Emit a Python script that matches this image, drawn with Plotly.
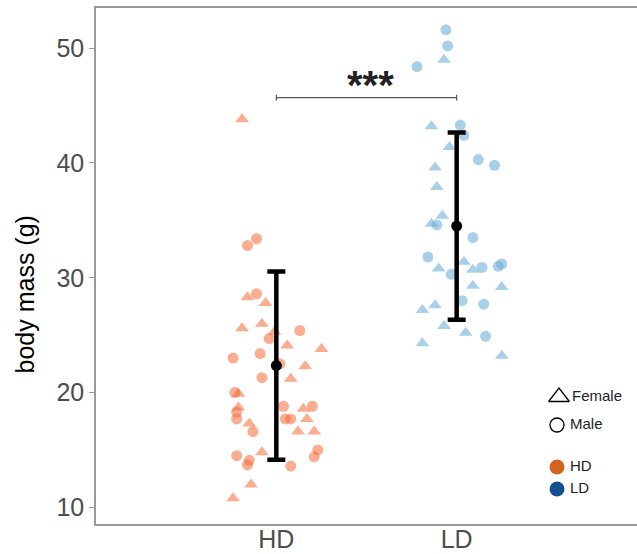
import plotly.graph_objects as go

# ---------------- data ----------------
groups = ["HD", "LD"]
group_pos = [1, 2]

# HD females (triangles): body mass and horizontal jitter (category units)
hd_f_mass = [43.8, 28.3, 27.8, 25.6, 26.0, 25.3, 24.1, 23.8, 22.3, 21.2,
             19.9, 18.7, 18.6, 17.7, 17.3, 16.6, 16.6, 14.8, 12.0, 10.8]
hd_f_jit = [-0.19, -0.16, -0.06, -0.19, -0.08, -0.01, 0.06, 0.25, 0.16, 0.08,
            -0.21, -0.21, 0.15, 0.17, -0.15, 0.12, 0.21, -0.08, -0.14, -0.24]
# HD males (circles)
hd_m_mass = [32.8, 33.4, 28.6, 25.4, 24.7, 23.0, 23.4, 22.5, 21.3, 20.0,
             18.3, 17.7, 18.8, 18.8, 17.7, 17.7, 16.6, 15.0, 14.4, 14.5,
             14.1, 13.7, 13.6]
hd_m_jit = [-0.16, -0.11, -0.11, 0.13, -0.04, -0.24, -0.09, 0.02, -0.08, -0.23,
            -0.22, -0.22, 0.04, 0.20, 0.05, 0.08, -0.13, 0.23, 0.21, -0.22,
            -0.15, -0.16, 0.08]
# LD females (triangles)
ld_f_mass = [49.0, 43.2, 41.4, 39.6, 37.9, 35.4, 34.7, 30.8, 31.4, 30.7,
             29.3, 29.2, 27.2, 27.6, 25.8, 25.2, 24.3, 23.2]
ld_f_jit = [-0.07, -0.14, -0.04, -0.12, -0.11, -0.08, -0.14, -0.10, 0.04, 0.09,
            0.09, 0.25, -0.19, -0.12, -0.07, 0.05, -0.19, 0.25]
# LD males (circles)
ld_m_mass = [51.6, 50.2, 48.4, 43.3, 42.4, 40.3, 39.8, 34.6, 33.5, 31.8,
             30.3, 30.9, 31.0, 31.2, 28.0, 27.7, 24.9]
ld_m_jit = [-0.06, -0.05, -0.22, 0.02, 0.04, 0.12, 0.21, -0.11, 0.09, -0.16,
            -0.03, 0.14, 0.23, 0.25, 0.03, 0.15, 0.16]

means = [22.35, 34.5]
sds = [8.2, 8.15]

bracket_y = 45.7
sig_label = "<b>***</b>"

y_title = "body mass (g)"
legend_labels = ["Female", "Male", "HD", "LD"]

# ---------------- styles ----------------
hd_pt = "rgba(245,105,55,0.55)"
ld_pt = "rgba(100,170,215,0.55)"
hd_solid = "#D2651E"
ld_solid = "#15508E"
FONT = "Liberation Sans, Arial, sans-serif"

fig = go.Figure()

def add_pts(mass, jit, pos, symbol, size, color):
    fig.add_trace(go.Scatter(
        x=[pos + j for j in jit], y=mass, mode="markers",
        marker=dict(symbol=symbol, size=size, color=color, line=dict(width=0)),
        showlegend=False, hoverinfo="y"))

add_pts(hd_f_mass, hd_f_jit, group_pos[0], "triangle-up", 12, hd_pt)
add_pts(hd_m_mass, hd_m_jit, group_pos[0], "circle", 11, hd_pt)
add_pts(ld_f_mass, ld_f_jit, group_pos[1], "triangle-up", 12, ld_pt)
add_pts(ld_m_mass, ld_m_jit, group_pos[1], "circle", 11, ld_pt)

# mean +/- sd
fig.add_trace(go.Scatter(
    x=group_pos, y=means, mode="markers",
    marker=dict(size=11, color="black"),
    error_y=dict(type="data", array=sds, color="black", thickness=4.5, width=9),
    showlegend=False))

# significance bracket
tk = 0.25
fig.add_trace(go.Scatter(
    x=[group_pos[0], group_pos[0], None, group_pos[0], group_pos[1], None, group_pos[1], group_pos[1]],
    y=[bracket_y - tk, bracket_y + tk, None, bracket_y, bracket_y, None, bracket_y - tk, bracket_y + tk],
    mode="lines", line=dict(color="#555555", width=1.2),
    showlegend=False, hoverinfo="skip"))

fig.add_annotation(x=(group_pos[0] + group_pos[1]) / 2 + 0.02, y=bracket_y - 1.0,
                   text=sig_label, showarrow=False, yanchor="bottom",
                   font=dict(family=FONT, size=40, color="#222222"))

# y-axis title (placed as annotation so it sits where the reference has it)
fig.add_annotation(xref="paper", yref="paper", x=-0.131, y=0.445,
                   text=y_title, textangle=-90, showarrow=False,
                   xanchor="center", yanchor="middle",
                   font=dict(family=FONT, size=25, color="black"))

# custom legend drawn on an overlay axis in pixel-like units
lx = 557
ltx = 570
ly = [397, 425, 467, 489]
fig.add_trace(go.Scatter(
    x=[lx + 2], y=[ly[0]], mode="markers", xaxis="x2", yaxis="y2",
    marker=dict(symbol="triangle-up-open", size=18, color="black", line=dict(width=1.3)),
    showlegend=False, hoverinfo="skip"))
fig.add_trace(go.Scatter(
    x=[lx], y=[ly[1]], mode="markers", xaxis="x2", yaxis="y2",
    marker=dict(symbol="circle-open", size=14, color="black", line=dict(width=1.3)),
    showlegend=False, hoverinfo="skip"))
fig.add_trace(go.Scatter(
    x=[lx, lx], y=ly[2:], mode="markers", xaxis="x2", yaxis="y2",
    marker=dict(symbol="circle", size=15, color=[hd_solid, ld_solid]),
    showlegend=False, hoverinfo="skip"))
fig.add_trace(go.Scatter(
    x=[ltx + 2, ltx, ltx, ltx], y=ly, mode="text", xaxis="x2", yaxis="y2",
    text=legend_labels, textposition="middle right",
    textfont=dict(family=FONT, size=15, color="#222222"),
    showlegend=False, hoverinfo="skip"))

fig.update_layout(
    width=637, height=554,
    margin=dict(l=96, r=0, t=8, b=30),
    plot_bgcolor="white", paper_bgcolor="white",
    font=dict(family=FONT),
    xaxis=dict(range=[0, 3], tickvals=group_pos, ticktext=groups,
               showgrid=False, zeroline=False, showline=True, mirror=True,
               linecolor="#9a9a9a", linewidth=1.5, ticks="",
               ticklabelstandoff=-8,
               tickfont=dict(family=FONT, size=25, color="#4D4D4D")),
    yaxis=dict(range=[8.55, 53.5], tickvals=[10, 20, 30, 40, 50],
               showgrid=False, zeroline=False, showline=True, mirror=False,
               linecolor="#9a9a9a", linewidth=1.5, ticks="outside", ticklen=5,
               tickcolor="#9a9a9a", tickwidth=1.2,
               tickfont=dict(family=FONT, size=25, color="#4D4D4D")),
    xaxis2=dict(range=[96, 637], overlaying="x", anchor="y2", visible=False),
    yaxis2=dict(range=[524, 8], overlaying="y", anchor="x2", visible=False),
)

fig.write_html("out.html", config={"displayModeBar": False},
               post_script="document.body.style.margin='0';document.body.style.overflow='hidden';")
